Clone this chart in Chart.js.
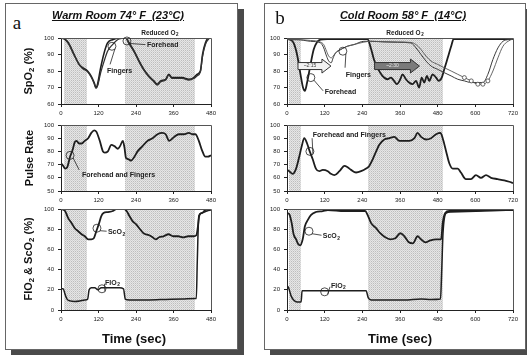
<!DOCTYPE html>
<html>
<head>
<meta charset="utf-8">
<script src="https://cdn.jsdelivr.net/npm/chart.js@4.4.0/dist/chart.umd.min.js"></script>
<style>
  body { margin: 0; width: 527px; height: 355px; background: #fff; position: relative; overflow: hidden;
         font-family: Arial, "Liberation Sans", sans-serif; color: #111; }
  .frame { position: absolute; border: 1px solid #666; background: #fff; box-shadow: 6px 6px 0 #4a4a4a; }
  canvas { position: absolute; }
  .txt { position: absolute; transform: translate(-50%, -50%); white-space: nowrap; z-index: 5; }
  .ytitle { position: absolute; transform: translate(-50%, -50%) rotate(-90deg); white-space: nowrap;
            font-weight: bold; font-size: 11px; z-index: 5; }
  .title { font-weight: bold; font-style: italic; text-decoration: underline; font-size: 11px; }
  .letter { font-family: "Liberation Serif", "DejaVu Serif", serif; font-size: 19px; }
  .xtitle { font-weight: bold; font-size: 13px; }
  sub { font-size: 70%; vertical-align: -2px; }
</style>
</head>
<body>
<div class="frame" style="left:5px;top:3px;width:231px;height:345px"></div>
<div class="frame" style="left:264px;top:3px;width:260px;height:345px"></div>

<div class="txt letter" style="left:17px;top:23px">a</div>
<div class="txt letter" style="left:280px;top:18px">b</div>
<div class="txt title" style="left:118px;top:15px">Warm Room 74° F&nbsp; (23°C)</div>
<div class="txt title" style="left:403px;top:15px">Cold Room 58° F&nbsp; (14°C)</div>

<div class="ytitle" style="left:29px;top:71px">SpO<sub>2</sub> (%)</div>
<div class="ytitle" style="left:29px;top:158px">Pulse Rate</div>
<div class="ytitle" style="left:29px;top:259px">FIO<sub>2</sub> &amp; ScO<sub>2</sub> (%)</div>

<div class="txt xtitle" style="left:134px;top:338px">Time (sec)</div>
<div class="txt xtitle" style="left:400px;top:338px">Time (sec)</div>

<script>
// ---- data (time in sec) ----
const warmTicks = [0, 120, 240, 360, 480];
const coldTicks = [0, 120, 240, 360, 480, 600, 720];

// shaded periods (reduced O2)
const warmShades = [[10, 83], [205, 430]];
const coldShades = [[5, 44], [258, 496]];

// warm room, SpO2
const warmSpo2Time = [0, 10, 20, 27, 42, 58, 69, 85, 96, 106, 112, 117, 127, 138, 149, 165, 186, 207, 218, 234, 250, 265, 281, 297, 308, 319, 335, 345, 355, 366, 388, 409, 425, 435, 446, 453, 462, 473, 480];
const warmSpo2Forehead = [100, 99.5, 98, 96, 90, 84, 82, 80, 77, 73, 70, 72, 82, 91, 97, 99, 100, 100, 97, 92, 86, 81, 77, 74, 72, 74, 75, 78, 76, 76, 76, 75, 76, 78, 80, 90, 97, 100, 100];
const warmSpo2Fingers = [100, 99.5, 97.5, 95.5, 89.5, 84, 81.5, 79.5, 76.5, 72.5, 69.5, 71, 79, 86, 92, 96, 99.5, 100, 96.5, 91.5, 85.5, 80.5, 76.5, 73.5, 71.5, 73.5, 74.5, 77.5, 75.5, 75.5, 75.5, 74.5, 75.5, 77, 79.5, 89, 96, 99.5, 100];

// warm room, pulse rate
const warmPulseTime = [0, 7, 13, 20, 29, 37, 44, 50, 58, 66, 76, 87, 97, 106, 113, 124, 134, 140, 150, 161, 171, 182, 189, 198, 203, 208, 217, 224, 235, 245, 261, 277, 293, 309, 324, 335, 346, 362, 377, 393, 409, 420, 430, 441, 451, 462, 470, 480];
const warmPulse = [71, 69, 67, 68, 76, 81, 87, 88, 86, 86, 88, 90, 94, 96, 95, 88, 80, 79, 80, 85, 84, 82, 84, 88, 83, 75, 74, 73, 76, 80, 84, 88, 90, 93, 94, 93, 88, 91, 93, 93, 94, 93, 93, 88, 81, 76, 76, 77];

// warm room, ScO2 and FIO2
const warmScoTime = [0, 13, 23, 34, 44, 55, 66, 76, 87, 97, 105, 113, 122, 129, 136, 150, 166, 177, 203, 210, 219, 229, 240, 253, 264, 282, 293, 303, 314, 328, 344, 359, 375, 391, 407, 425, 433, 437, 443, 451, 462, 480];
const warmSco = [100, 98, 91, 86, 81, 78, 75, 73, 70, 70, 71, 78, 86, 93, 96, 97, 98, 100, 100, 98, 93, 88, 85, 80, 76, 74, 72, 70, 72, 73, 75, 73, 73, 72, 73, 73, 74, 80, 94, 96, 99, 100];
const warmFioTime = [0, 7, 13, 20, 29, 44, 60, 76, 85, 90, 97, 108, 118, 129, 145, 166, 187, 200, 206, 219, 282, 335, 388, 430, 433, 436, 441, 451, 467, 480];
const warmFio = [21, 21, 15.5, 10.5, 9, 8.5, 9, 10, 10.5, 20, 22, 22, 20, 22, 22, 22, 22, 21, 10.5, 10, 10, 10.5, 11, 11.5, 11.5, 47, 93, 96, 98, 99];

// cold room, SpO2
const coldForeheadTime = [0, 11, 21, 32, 43, 51, 57, 64, 75, 85, 96, 107, 128, 181, 256, 267, 277, 288, 304, 320, 331, 341, 350, 361, 368, 379, 389, 400, 411, 421, 429, 437, 446, 453, 464, 475, 483, 493, 501, 512, 523, 531, 720];
const coldForehead = [99.6, 99, 97, 90, 78, 70, 68, 73, 84, 93, 97.6, 99, 99.4, 99.4, 99.4, 94, 87, 82, 77, 75, 76, 74, 72, 75, 78, 75, 73, 72, 74, 70, 76, 73, 77, 74, 78, 76, 74, 76, 81, 88, 95, 99.4, 99.4];
const coldFingerTime = [0, 32, 75, 107, 117, 126, 133, 141, 147, 155, 171, 192, 213, 245, 267, 309, 352, 395, 411, 427, 443, 459, 480, 501, 523, 544, 565, 587, 608, 624, 640, 656, 672, 688, 704, 720];
const coldFingerA = [99, 99, 98, 97, 94, 89, 86, 85, 88, 91, 93, 95, 96, 98, 98, 97.6, 97.4, 97, 94, 90, 86, 83, 81, 79, 77, 75, 74, 73, 73, 73, 78, 87, 94, 98, 99, 99.4];
const coldFingerB = [99, 99, 98.5, 97.5, 96, 92, 89, 88, 89, 91, 93, 95, 96, 97.5, 98, 97.8, 97.6, 97.3, 96, 93, 89, 86, 84, 82, 80, 78, 76, 74, 72, 72, 74, 80, 88, 95, 98, 99.4];

// cold room, pulse rate
const coldPulseTime = [0, 7, 18, 29, 39, 47, 55, 64, 71, 82, 92, 103, 114, 130, 140, 151, 167, 183, 193, 204, 220, 236, 252, 262, 273, 284, 294, 310, 326, 342, 358, 374, 390, 406, 416, 427, 443, 459, 475, 489, 496, 507, 517, 528, 544, 554, 570, 586, 602, 618, 634, 650, 671, 692, 708, 720];
const coldPulse = [66, 65, 63, 67, 76, 84, 90, 86, 81, 74, 67, 65, 66, 65, 63, 62, 65, 69, 68, 66, 64, 65, 67, 69, 74, 80, 85, 89, 90, 91, 88, 88, 88, 90, 94, 91, 89, 90, 93, 94, 90, 80, 71, 67, 67, 64, 59, 59, 62, 60, 62, 60, 59, 58, 57, 56];

// cold room, ScO2 and FIO2
const coldScoTime = [0, 7, 15, 21, 29, 36, 42, 50, 57, 66, 76, 92, 114, 130, 183, 249, 257, 268, 284, 297, 313, 329, 345, 361, 374, 388, 401, 416, 427, 441, 457, 475, 491, 496, 504, 517, 563, 629, 720];
const coldSco = [96, 95, 86, 75, 70, 65, 64, 70, 83, 89, 94, 97, 98, 99, 98, 98, 94, 86, 81, 76, 72, 70, 71, 76, 73, 67, 66, 73, 70, 67, 69, 70, 70, 86, 96, 98, 98, 99, 99];
const coldFioTime = [0, 5, 13, 21, 32, 45, 48, 76, 183, 252, 259, 268, 319, 374, 427, 459, 489, 493, 497, 507, 522, 720];
const coldFio = [24, 22, 14, 10, 8, 8, 19, 19, 19, 19, 12, 10, 10, 10, 11, 10.5, 11, 40, 76, 96, 97, 99];

// callout labels: text position, circle, end of leader line (data units)
const warmSpo2Notes = [
  { text: 'Forehead', tx: 275, ty: 95.8, cx: 211, cy: 98.2, lx: 270, ly: 96 },
  { text: 'Fingers', tx: 147, ty: 80, cx: 163, cy: 95, lx: 157, ly: 84 }
];
const warmPulseNotes = [{ text: 'Forehead and Fingers', tx: 67, ty: 62, cx: 29, cy: 77, lx: 58, ly: 66 }];
const warmOxyNotes = [
  { text: 'ScO', sub: '2', tx: 150, ty: 77, cx: 115, cy: 81, lx: 146, ly: 78 },
  { text: 'FIO', sub: '2', tx: 141, ty: 27, cx: 131, cy: 21, lx: 139, ly: 26 }
];
const coldSpo2Notes = [
  { text: 'Fingers', tx: 187, ty: 77.5, cx: 178, cy: 92, lx: 185, ly: 82 },
  { text: 'Forehead', tx: 120, ty: 67, cx: 76, cy: 76, lx: 115, ly: 68 }
];
const coldPulseNotes = [{ text: 'Forehead and Fingers', tx: 82, ty: 92, cx: 73, cy: 80, lx: 80, ly: 90 }];
const coldOxyNotes = [
  { text: 'ScO', sub: '2', tx: 114, ty: 73, cx: 70, cy: 78, lx: 110, ly: 74 },
  { text: 'FIO', sub: '2', tx: 140, ty: 24, cx: 120, cy: 18, lx: 137, ly: 23 }
];
const coldArrows = [
  { from: 35, to: 140, v: 83, label: '~2:15', fill: '#f2f2f2', textColor: '#444' },
  { from: 279, to: 422, v: 83, label: '~2:30', fill: '#7a7a7a', textColor: '#e8e8e8' }
];

// ---- helpers ----
const YW = 26, XH = 14, PT = 12, PR = 10;

function zip(ts, vs) {
  return ts.map((t, i) => ({ x: t, y: vs[i] }));
}

function shadePattern(ctx) {
  const pc = document.createElement('canvas');
  pc.width = 2; pc.height = 2;
  const p = pc.getContext('2d');
  p.fillStyle = '#e6e6e6'; p.fillRect(0, 0, 2, 2);
  p.fillStyle = '#bdbdbd'; p.fillRect(0, 0, 1, 1);
  p.fillStyle = '#d2d2d2'; p.fillRect(1, 1, 1, 1);
  return ctx.createPattern(pc, 'repeat');
}

// text with an optional subscript part
function subText(ctx, x, y, text, sub, size) {
  ctx.font = 'bold ' + size + 'px Arial';
  ctx.textAlign = 'left';
  ctx.textBaseline = 'middle';
  ctx.fillText(text, x, y);
  if (sub) {
    const w = ctx.measureText(text).width;
    ctx.font = 'bold ' + (size * 0.7) + 'px Arial';
    ctx.fillText(sub, x + w + 0.5, y + size * 0.3);
  }
}

function decor(cfg) {
  return {
    id: 'decor',
    beforeDatasetsDraw(chart) {
      const { ctx, chartArea: a, scales: { x } } = chart;
      ctx.save();
      ctx.fillStyle = shadePattern(ctx);
      cfg.shades.forEach(([s, e]) => {
        const x1 = Math.round(x.getPixelForValue(s)), x2 = Math.round(x.getPixelForValue(e));
        ctx.fillRect(x1, a.top, x2 - x1, a.bottom - a.top);
      });
      ctx.restore();
    },
    afterDatasetsDraw(chart) {
      const { ctx, chartArea: a, scales: { x, y } } = chart;
      ctx.save();
      // top and right frame of plot area
      ctx.strokeStyle = '#555';
      ctx.lineWidth = 1;
      ctx.beginPath();
      ctx.moveTo(a.left, a.top + 0.5);
      ctx.lineTo(a.right + 0.5, a.top + 0.5);
      ctx.lineTo(a.right + 0.5, a.bottom);
      ctx.stroke();

      // arrows
      (cfg.arrows || []).forEach(ar => {
        const x1 = x.getPixelForValue(ar.from), x2 = x.getPixelForValue(ar.to);
        const yc = y.getPixelForValue(ar.v);
        const head = 9;
        ctx.beginPath();
        ctx.moveTo(x1, yc - 3.5);
        ctx.lineTo(x2 - head, yc - 3.5);
        ctx.lineTo(x2 - head, yc - 7);
        ctx.lineTo(x2, yc);
        ctx.lineTo(x2 - head, yc + 7);
        ctx.lineTo(x2 - head, yc + 3.5);
        ctx.lineTo(x1, yc + 3.5);
        ctx.closePath();
        ctx.fillStyle = ar.fill;
        ctx.fill();
        ctx.strokeStyle = '#333';
        ctx.stroke();
        ctx.fillStyle = ar.textColor;
        ctx.font = '5px Arial';
        ctx.textAlign = 'center';
        ctx.textBaseline = 'middle';
        ctx.fillText(ar.label, (x1 + x2 - head) / 2, yc);
      });

      // callouts
      ctx.strokeStyle = '#222';
      ctx.fillStyle = '#222';
      ctx.lineWidth = 0.8;
      (cfg.notes || []).forEach(n => {
        const cx = x.getPixelForValue(n.cx), cy = y.getPixelForValue(n.cy);
        ctx.beginPath();
        ctx.arc(cx, cy, 4, 0, Math.PI * 2);
        ctx.stroke();
        ctx.beginPath();
        ctx.moveTo(cx + 3, cy + 2.5);
        ctx.lineTo(x.getPixelForValue(n.lx), y.getPixelForValue(n.ly));
        ctx.stroke();
        subText(ctx, x.getPixelForValue(n.tx), y.getPixelForValue(n.ty), n.text, n.sub, 7);
      });

      // "Reduced O2" heading over the long shaded period
      if (cfg.reduced) {
        const s = cfg.shades[1];
        const mid = (x.getPixelForValue(s[0]) + x.getPixelForValue(s[1])) / 2;
        subText(ctx, mid - 19, a.top - 5, 'Reduced O', '2', 6.5);
      }
      ctx.restore();
    }
  };
}

function makeChart(area, xMax, yMin, yMax, yStep, datasets, cfg) {
  const c = document.createElement('canvas');
  const w = YW + (area.right - area.left) + PR;
  const h = PT + (area.bottom - area.top) + XH;
  c.width = w; c.height = h;
  c.style.left = (area.left - YW) + 'px';
  c.style.top = (area.top - PT) + 'px';
  document.body.appendChild(c);

  const tickFont = { size: 6, family: 'Arial' };
  return new Chart(c, {
    type: 'line',
    data: { datasets: datasets },
    options: {
      responsive: false,
      animation: false,
      events: [],
      layout: { padding: { top: PT, right: PR, left: 0, bottom: 0 }, autoPadding: false },
      plugins: { legend: { display: false }, tooltip: { enabled: false } },
      elements: {
        point: { radius: 0 },
        line: { cubicInterpolationMode: 'monotone', borderJoinStyle: 'round', fill: false }
      },
      scales: {
        x: {
          type: 'linear', min: 0, max: xMax,
          afterBuildTicks: s => { s.ticks = (xMax === 480 ? warmTicks : coldTicks).map(v => ({ value: v })); },
          ticks: { font: tickFont, color: '#222', padding: 3, maxRotation: 0 },
          grid: { drawOnChartArea: false, tickLength: 3, color: '#222' },
          border: { color: '#222', width: 1 },
          afterFit: s => { s.height = XH; }
        },
        y: {
          min: yMin, max: yMax,
          ticks: { stepSize: yStep, font: tickFont, color: '#222', padding: 4 },
          grid: { drawOnChartArea: false, tickLength: 3, color: '#222' },
          border: { color: '#222', width: 1 },
          afterFit: s => { s.width = YW; }
        }
      }
    },
    plugins: [decor(cfg)]
  });
}

const ink = '#1e1e1e';

// warm room
makeChart({ left: 61, right: 211, top: 38, bottom: 104 }, 480, 60, 100, 10, [
  { data: zip(warmSpo2Time, warmSpo2Fingers), borderColor: '#333', borderWidth: 1.3 },
  { data: zip(warmSpo2Time, warmSpo2Forehead), borderColor: ink, borderWidth: 1.6 }
], { shades: warmShades, notes: warmSpo2Notes, reduced: true });

makeChart({ left: 61, right: 211, top: 125, bottom: 191 }, 480, 50, 100, 10, [
  { data: zip(warmPulseTime, warmPulse), borderColor: ink, borderWidth: 1.8 }
], { shades: warmShades, notes: warmPulseNotes });

makeChart({ left: 61, right: 211, top: 209, bottom: 310 }, 480, 0, 100, 20, [
  { data: zip(warmScoTime, warmSco), borderColor: ink, borderWidth: 1.8 },
  { data: zip(warmFioTime, warmFio), borderColor: ink, borderWidth: 1.5 }
], { shades: warmShades, notes: warmOxyNotes });

// cold room
makeChart({ left: 287, right: 513, top: 38, bottom: 104 }, 720, 60, 100, 10, [
  { data: zip(coldFingerTime, coldFingerB), borderColor: '#555', borderWidth: 0.9,
    pointRadius: c => (c.raw && c.raw.x >= 560 && c.raw.x <= 640 ? 2 : 0),
    pointBackgroundColor: '#fff', pointBorderColor: '#444', pointBorderWidth: 0.8 },
  { data: zip(coldFingerTime, coldFingerA), borderColor: '#3a3a3a', borderWidth: 1 },
  { data: zip(coldForeheadTime, coldForehead), borderColor: ink, borderWidth: 1.8 }
], { shades: coldShades, notes: coldSpo2Notes, arrows: coldArrows, reduced: true });

makeChart({ left: 287, right: 513, top: 125, bottom: 191 }, 720, 50, 100, 10, [
  { data: zip(coldPulseTime, coldPulse), borderColor: ink, borderWidth: 1.8 }
], { shades: coldShades, notes: coldPulseNotes });

makeChart({ left: 287, right: 513, top: 209, bottom: 310 }, 720, 0, 100, 20, [
  { data: zip(coldScoTime, coldSco), borderColor: ink, borderWidth: 1.8 },
  { data: zip(coldFioTime, coldFio), borderColor: ink, borderWidth: 1.5 }
], { shades: coldShades, notes: coldOxyNotes });
</script>
</body>
</html>
